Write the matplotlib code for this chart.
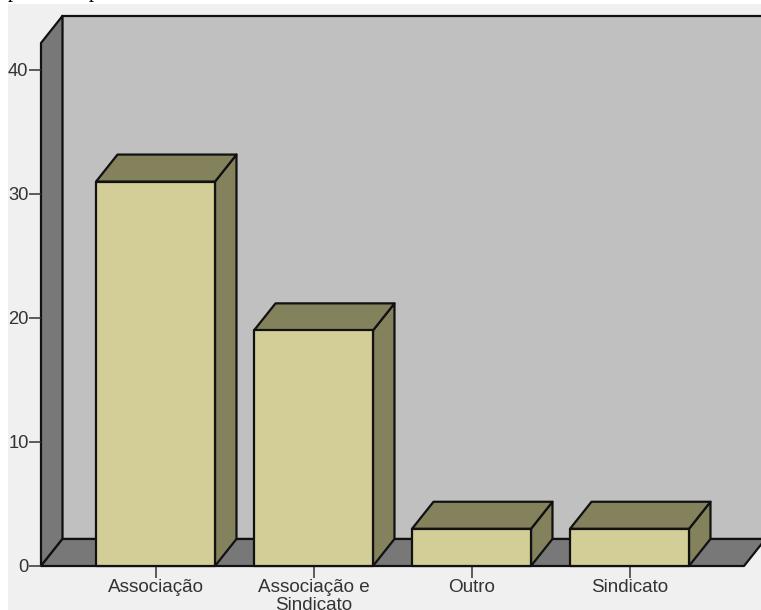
import matplotlib
matplotlib.use("Agg")
import matplotlib.pyplot as plt
from matplotlib.patches import Polygon, Rectangle

categories = ["Associação", "Associação e\nSindicato", "Outro", "Sindicato"]
values = [31, 19, 3, 3]
y_ticks = [0, 10, 20, 30, 40]

W, H = 761, 610
FRONT = "#d3ce97"
SHADE = "#84815d"
WALL = "#c0c0c0"
DARK = "#787878"
PANEL = "#f0f0f0"
LW = 1.6

# depth of the fake 3d box, in data units
dx = 0.136
dy = 2.18
bar_w = 0.753

plt.rcParams["font.family"] = ["Liberation Sans", "DejaVu Sans"]

fig = plt.figure(figsize=(W / 100, H / 100), dpi=100, facecolor="white")
fig.patches.append(Rectangle((8 / W, 0), 1, 1 - 4 / H, transform=fig.transFigure,
                             fc=PANEL, ec="none", zorder=-1))

# line of body text above the panel, only its descenders stay on the page
for px in (13, 94):
    fig.text(px / W, 1 + 3 / H, "p", family="Liberation Serif", fontsize=15,
             va="baseline", ha="center", color="black")

ax = fig.add_axes([41 / W, (H - 566) / H, (744 - 41) / W, (566 - 43) / H])
ax.patch.set_visible(False)
ax.set_xlim((41 - 155.5) / 158, (744 - 155.5) / 158)
ax.set_ylim(0, (566 - 43) / 12.4)

x0, x1 = ax.get_xlim()
y1 = ax.get_ylim()[1]


def poly(pts, color, z=1):
    ax.add_patch(Polygon(pts, closed=True, fc=color, ec="#111111", lw=LW,
                         joinstyle="round", clip_on=False, zorder=z))


# back wall, left wall, floor
poly([(x0 + dx, dy), (x1 + dx, dy), (x1 + dx, y1 + dy), (x0 + dx, y1 + dy)], WALL)
poly([(x0, 0), (x0 + dx, dy), (x0 + dx, y1 + dy), (x0, y1)], DARK)
poly([(x0, 0), (x1, 0), (x1 + dx, dy), (x0 + dx, dy)], DARK)

for i, v in enumerate(values):
    l = i - bar_w / 2
    r = i + bar_w / 2
    poly([(r, 0), (r + dx, dy), (r + dx, v + dy), (r, v)], SHADE, 3)
    poly([(l, v), (r, v), (r + dx, v + dy), (l + dx, v + dy)], SHADE, 3)
    poly([(l, 0), (r, 0), (r, v), (l, v)], FRONT, 4)

ax.set_xticks(range(len(categories)))
ax.set_xticklabels(categories, linespacing=1.08)
ax.set_yticks(y_ticks)
ax.tick_params(axis="x", length=8.5, width=1.1, color="#333333",
               labelsize=13.6, labelcolor="#333333", pad=1)
ax.tick_params(axis="y", length=8.5, width=1.1, color="#333333",
               labelsize=13.2, labelcolor="#333333", pad=0.5)
for s in ax.spines.values():
    s.set_visible(False)

fig.savefig("out.png", dpi=100, facecolor="white")
